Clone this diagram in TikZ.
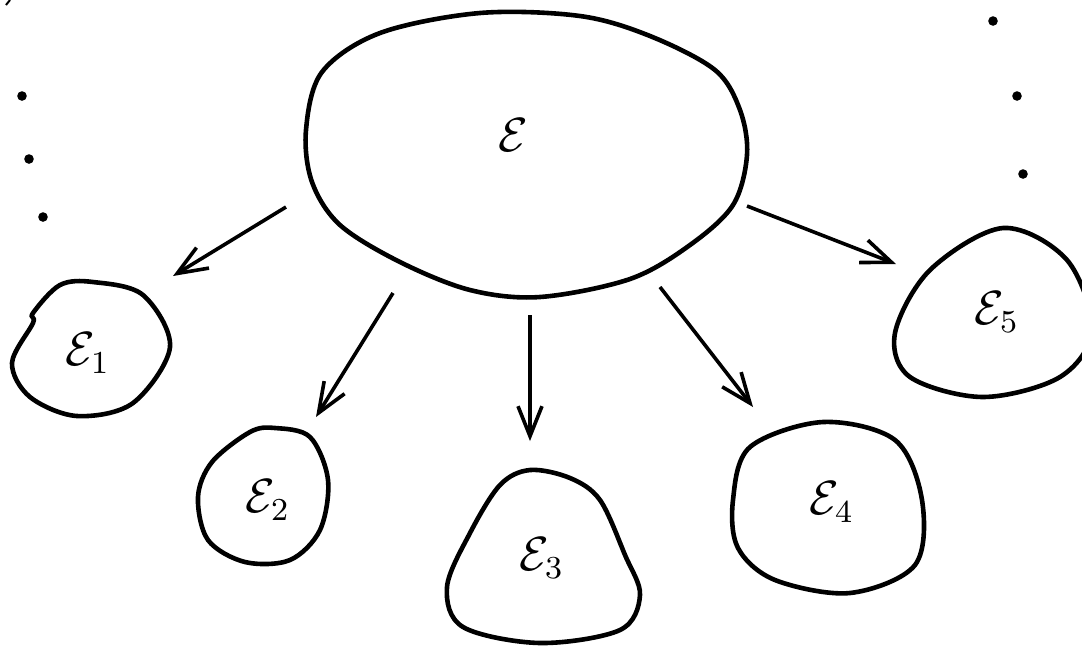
\documentclass[tikz,border=0pt]{standalone}
\usetikzlibrary{arrows.meta}
\tikzset{
  blob/.style={line width=1.15pt, smooth cycle, tension=0.55},
  lbl/.style={font=\fontsize{12}{14}\selectfont, inner sep=0pt},
  arr/.style={-{Straight Barb[length=7.5pt,width=6pt]}, line width=0.9pt},
  dot/.style={circle, fill, inner sep=0pt, minimum size=2.4pt}
}
\begin{document}
\begin{tikzpicture}[x=0.25pt, y=-0.25pt]
  \clip (0,0) rectangle (1082,646);
  % sets
  \draw[blob] plot coordinates {(380,33) (480,13) (580,16) (650,36) (715,70) (740,110)
    (747,155) (733,205) (690,245) (630,279) (540,297) (470,290) (400,262) (340,225)
    (312,182) (306,130) (322,72)};
  \draw[blob] plot coordinates {(93,282) (143,295) (170,347) (133,403) (77,416)
    (30,397) (12,363) (33,323) (33,313) (60,285)};
  \draw[blob] plot coordinates {(250,432) (275,428) (310,437) (328,480) (320,530)
    (290,560) (245,562) (208,540) (198,497) (212,462)};
  \draw[blob] plot coordinates {(470,533) (500,485) (530,470) (570,478) (600,500)
    (625,555) (640,595) (620,630) (540,643) (463,627) (447,587)};
  \draw[blob] plot coordinates {(750,447) (823,422) (895,440) (922,500) (915,565)
    (850,593) (775,580) (738,548) (733,500)};
  \draw[blob] plot coordinates {(1003,228) (1067,260) (1092,330) (1060,377) (983,397)
    (910,377) (895,333) (930,270)};
  \draw[line width=0.5pt] (10,0) -- (6,5);
  % labels
  \node[lbl] (E) at (513,135) {$\mathcal{E}$};
  \node[lbl] (E1) at (88,353) {$\mathcal{E}_1$};
  \node[lbl] (E2) at (268,500) {$\mathcal{E}_2$};
  \node[lbl] (E3) at (542,558) {$\mathcal{E}_3$};
  \node[lbl] (E4) at (832,502) {$\mathcal{E}_4$};
  \node[lbl] (E5) at (997,312) {$\mathcal{E}_5$};
  % dots
  \node[dot] (l1) at (22,96) {};
  \node[dot] (l2) at (29,159) {};
  \node[dot] (l3) at (43,217) {};
  \node[dot] (r1) at (993,21) {};
  \node[dot] (r2) at (1017,96) {};
  \node[dot] (r3) at (1023,174) {};
  % arrows
  \coordinate (s1) at (286,207);
  \coordinate (t1) at (173,276);
  \coordinate (s2) at (393,293);
  \coordinate (t2) at (316,417);
  \coordinate (s3) at (530,315);
  \coordinate (t3) at (530,441);
  \coordinate (s4) at (660,287);
  \coordinate (t4) at (753,407);
  \coordinate (s5) at (747,206);
  \coordinate (t5) at (896,264);
  \draw[arr] (s1) -- (t1);
  \draw[arr] (s2) -- (t2);
  \draw[arr] (s3) -- (t3);
  \draw[arr] (s4) -- (t4);
  \draw[arr] (s5) -- (t5);
\end{tikzpicture}
\end{document}
